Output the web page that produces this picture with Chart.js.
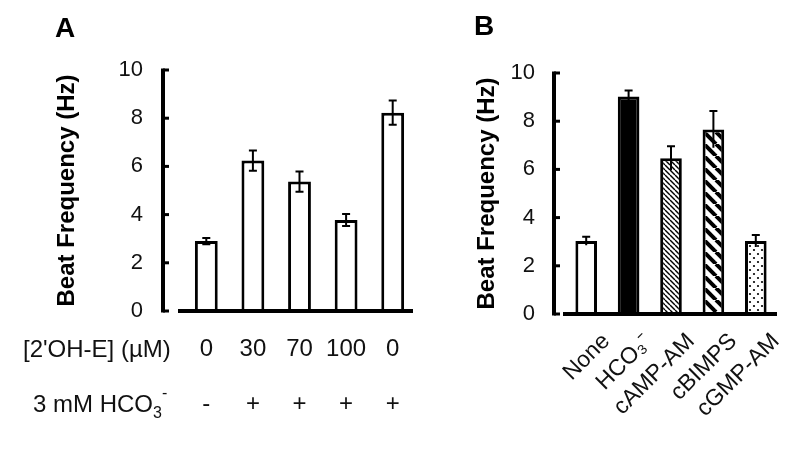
<!DOCTYPE html>
<html>
<head>
<meta charset="utf-8">
<script src="https://cdn.jsdelivr.net/npm/chart.js@4.4.1/dist/chart.umd.min.js"></script>
<style>
  html, body { margin: 0; padding: 0; background: #fff; }
  #wrapA { position: absolute; left: 0; top: 0; width: 440px; height: 470px; }
  #wrapB { position: absolute; left: 440px; top: 0; width: 360px; height: 470px; }
</style>
</head>
<body>
<div id="wrapA"><canvas id="chartA"></canvas></div>
<div id="wrapB"><canvas id="chartB"></canvas></div>
<script>
// panel A: 2'OH-E concentration with / without bicarbonate
var concA = ['0', '30', '70', '100', '0'];
var hco3A = ['-', '+', '+', '+', '+'];
var freqA = [2.9, 6.24, 5.37, 3.78, 8.23];
var errA = [0.13, 0.42, 0.42, 0.25, 0.5];

// panel B: treatments
var treatB = ['None', 'HCO₃⁻', 'cAMP-AM', 'cBIMPS', 'cGMP-AM'];
var freqB = [3.03, 9.02, 6.46, 7.66, 3.03];
var errB = [0.18, 0.25, 0.5, 0.76, 0.25];

var yTicks = [0, 2, 4, 6, 8, 10];

var FONT = "'Liberation Sans', Arial, Helvetica, sans-serif";
Chart.defaults.font.family = FONT;
Chart.defaults.color = '#111';

function makePattern(kind) {
  var c = document.createElement('canvas');
  var g = c.getContext('2d');
  var s = kind === 'fine' ? 5 : kind === 'thick' ? 12 : 8;
  c.width = s; c.height = s;
  g.fillStyle = '#fff';
  g.fillRect(0, 0, s, s);
  g.fillStyle = '#000';
  g.strokeStyle = '#000';
  if (kind === 'dots') {
    [[2, 2], [6, 6]].forEach(function (p) {
      g.beginPath(); g.arc(p[0], p[1], 1.1, 0, Math.PI * 2); g.fill();
    });
  } else {
    g.lineWidth = kind === 'fine' ? 1.4 : 4;
    for (var k = -1; k <= 1; k++) {
      g.beginPath(); g.moveTo(k * s, 0); g.lineTo(k * s + s, s); g.stroke();
    }
  }
  return g.createPattern(c, 'repeat');
}

// error bars, drawn off the bar elements and the y scale
var errBars = {
  id: 'errBars',
  afterDatasetsDraw: function (chart, args, opts) {
    var ctx = chart.ctx, y = chart.scales.y;
    var bars = chart.getDatasetMeta(0).data;
    var vals = chart.data.datasets[0].data;
    ctx.save();
    ctx.strokeStyle = '#000';
    ctx.lineWidth = 2;
    bars.forEach(function (b, i) {
      var hi = y.getPixelForValue(vals[i] + opts.errs[i]);
      var lo = y.getPixelForValue(vals[i] - opts.errs[i]);
      ctx.beginPath();
      ctx.moveTo(b.x, hi); ctx.lineTo(b.x, lo);
      ctx.moveTo(b.x - 4, hi); ctx.lineTo(b.x + 4, hi);
      if (opts.both) { ctx.moveTo(b.x - 4, lo); ctx.lineTo(b.x + 4, lo); }
      ctx.stroke();
    });
    ctx.restore();
  }
};

// thick y axis with inward ticks, separate x baseline
var axisLines = {
  id: 'axisLines',
  afterDraw: function (chart, args, opts) {
    var ctx = chart.ctx, y = chart.scales.y, a = chart.chartArea;
    var ax = a.left - opts.gap;
    var y0 = y.getPixelForValue(0);
    ctx.save();
    ctx.strokeStyle = '#000';
    ctx.lineWidth = 4;
    ctx.beginPath();
    ctx.moveTo(ax, y.getPixelForValue(10) - 1.5);
    ctx.lineTo(ax, y0 + 1.5);
    ctx.stroke();
    ctx.lineWidth = 3;
    yTicks.forEach(function (v) {
      var py = y.getPixelForValue(v);
      ctx.beginPath(); ctx.moveTo(ax, py); ctx.lineTo(ax + 6, py); ctx.stroke();
    });
    ctx.lineWidth = 4;
    ctx.beginPath();
    ctx.moveTo(a.left - opts.baseIn, y0);
    ctx.lineTo(a.right - opts.baseOut, y0);
    ctx.stroke();
    ctx.restore();
  }
};

var notesA = {
  id: 'notesA',
  afterDraw: function (chart) {
    var ctx = chart.ctx;
    ctx.save();
    ctx.fillStyle = '#000';
    ctx.font = 'bold 28px ' + FONT;
    ctx.textBaseline = 'alphabetic';
    ctx.fillText('A', 55, 37);
    ctx.fillStyle = '#111';
    ctx.font = '24px ' + FONT;
    ctx.textBaseline = 'middle';
    ctx.fillText("[2'OH-E] (µM)", 23, 350);
    var x = 33;
    ctx.fillText('3 mM HCO', x, 405);
    x += ctx.measureText('3 mM HCO').width;
    ctx.font = '16px ' + FONT;
    ctx.fillText('3', x, 414);
    ctx.fillText('-', x + 9, 394);
    ctx.restore();
  }
};

var notesB = {
  id: 'notesB',
  afterDraw: function (chart) {
    var ctx = chart.ctx;
    ctx.save();
    ctx.fillStyle = '#000';
    ctx.font = 'bold 28px ' + FONT;
    ctx.fillText('B', 34, 35);
    ctx.restore();
  }
};

function yScale(titlePad, tickPad, width) {
  return {
    min: 0, max: 10,
    afterBuildTicks: function (s) { s.ticks = yTicks.map(function (v) { return { value: v }; }); },
    afterFit: function (s) { s.width = width; },
    grid: { display: false, drawTicks: false },
    border: { display: false },
    ticks: { padding: tickPad, font: { size: 22 }, color: '#111' },
    title: {
      display: true, text: 'Beat Frequency (Hz)',
      font: { size: 24, weight: 'bold' }, color: '#000',
      padding: { top: titlePad, bottom: 0 }
    }
  };
}

new Chart(document.getElementById('chartA'), {
  type: 'bar',
  data: {
    labels: concA.map(function (c, i) { return [c, hco3A[i]]; }),
    datasets: [{
      data: freqA,
      backgroundColor: '#fff',
      borderColor: '#000',
      borderWidth: 3,
      barPercentage: 0.49,
      categoryPercentage: 1
    }]
  },
  options: {
    responsive: true,
    maintainAspectRatio: false,
    animation: false,
    layout: { padding: { left: 0, top: 70, right: 24, bottom: 0 } },
    plugins: {
      legend: { display: false },
      tooltip: { enabled: false },
      errBars: { errs: errA, both: true },
      axisLines: { gap: 20, baseIn: 5, baseOut: 3 }
    },
    scales: {
      x: {
        afterFit: function (s) { s.height = 159; },
        grid: { display: false, drawTicks: false },
        border: { display: false },
        ticks: { padding: 11, autoSkip: false, font: { size: 24, lineHeight: 55 / 24 }, color: '#111', maxRotation: 0 }
      },
      y: yScale(52.6, 40, 183)
    }
  },
  plugins: [errBars, axisLines, notesA]
});

new Chart(document.getElementById('chartB'), {
  type: 'bar',
  data: {
    labels: treatB,
    datasets: [{
      data: freqB,
      backgroundColor: ['#fff', '#000', makePattern('fine'), makePattern('thick'), makePattern('dots')],
      borderColor: '#000',
      borderWidth: 3,
      barPercentage: 0.51,
      categoryPercentage: 1
    }]
  },
  options: {
    responsive: true,
    maintainAspectRatio: false,
    animation: false,
    layout: { padding: { left: 0, top: 73, right: 23, bottom: 0 } },
    plugins: {
      legend: { display: false },
      tooltip: { enabled: false },
      errBars: { errs: errB, both: false },
      axisLines: { gap: 11, baseIn: 2, baseOut: 0 }
    },
    scales: {
      x: {
        afterFit: function (s) { s.height = 156; },
        grid: { display: false, drawTicks: false },
        border: { display: false },
        ticks: { padding: 14, labelOffset: 20, autoSkip: false, font: { size: 23 }, color: '#111', minRotation: 45, maxRotation: 45 }
      },
      y: yScale(32.6, 30, 125)
    }
  },
  plugins: [errBars, axisLines, notesB]
});
</script>
</body>
</html>
